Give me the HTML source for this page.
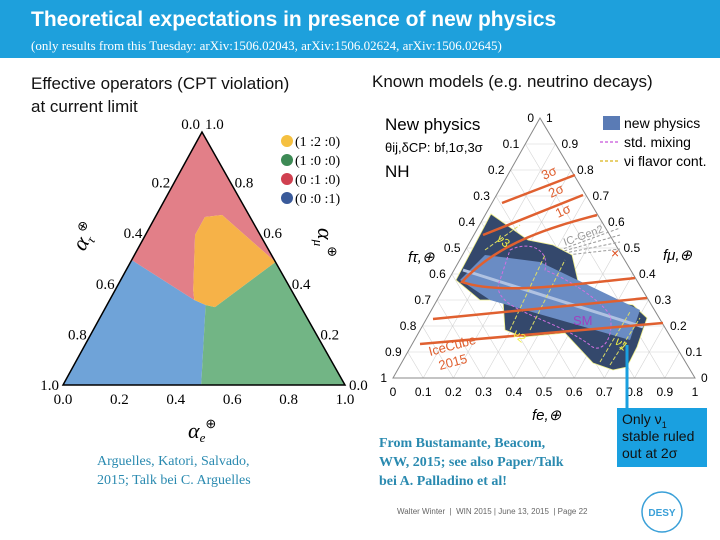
<!DOCTYPE html>
<html><head><meta charset="utf-8">
<style>
body{margin:0;width:720px;height:540px;overflow:hidden;background:#fff;font-family:"Liberation Sans",sans-serif;position:relative}
.hdr{position:absolute;left:0;top:0;width:720px;height:58px;background:#1ea0dc}
.t{position:absolute;white-space:nowrap}
sub{line-height:0}
</style></head><body>
<div class="hdr"></div>
<div class="t" style="left:31px;top:8px;font-size:21px;color:#fff;font-weight:bold">Theoretical expectations in presence of new physics</div>
<div class="t" style="left:31px;top:38px;font-size:13px;color:#fff;font-family:'Liberation Serif',serif">(only results from this Tuesday: arXiv:1506.02043, arXiv:1506.02624, arXiv:1506.02645)</div>
<div class="t" style="left:31px;top:72px;font-size:17px;line-height:23px;color:#111">Effective operators (CPT violation)<br>at current limit</div>
<div class="t" style="left:372px;top:72px;font-size:17px;color:#111">Known models (e.g. neutrino decays)</div>
<svg id="s" width="720" height="540" style="position:absolute;left:0;top:0"></svg>
<div class="t" style="left:97px;top:452px;font-size:14px;line-height:19px;color:#2a8ab0;font-family:'Liberation Serif',serif">Arguelles, Katori, Salvado,<br>2015; Talk bei C. Arguelles</div>
<div class="t" style="left:379px;top:434px;font-size:14px;line-height:19px;color:#2a8ab0;font-weight:bold;font-family:'Liberation Serif',serif">From Bustamante, Beacom,<br>WW, 2015; see also Paper/Talk<br>bei A. Palladino et al!</div>
<div class="t" style="left:617px;top:408px;width:90px;height:59px;background:#1aa0e0;font-size:14px;line-height:17px;color:#111;padding:3px 0 0 5px;box-sizing:border-box">Only ν<sub style="font-size:9px">1</sub><br>stable ruled<br>out at 2σ</div>
<div class="t" style="left:397px;top:507px;font-size:8px;color:#666">Walter Winter &nbsp;|&nbsp; WIN 2015 | June 13, 2015 &nbsp;| Page 22</div>
<script>
const NS="http://www.w3.org/2000/svg",S=document.getElementById('s');
function el(t,a,p){const e=document.createElementNS(NS,t);for(const k in a)e.setAttribute(k,a[k]);(p||S).appendChild(e);return e;}
// ---- left ternary data: vertices as (alpha_mu, alpha_e) fractions ----
const ticksL=["0.0","0.2","0.4","0.6","0.8","1.0"];
const regionNames=["blue","green","red","orange"];
const regionColors=["#6fa3d8","#72b585","#e27f88","#f6b248"];
const regionBlue=[[0,0],[0.494,0],[0.336,0.30],[0.316,0.35],[0,0.49]];
const regionGreen=[[0,0.49],[0.316,0.35],[0.308,0.387],[0.486,0.514],[0,1]];
const regionRed=[[1,0],[0.494,0],[0.336,0.30],[0.375,0.277],[0.593,0.176],[0.664,0.176],[0.672,0.233],[0.486,0.514]];
const regionOrange=[[0.664,0.176],[0.672,0.233],[0.486,0.514],[0.308,0.387],[0.316,0.35],[0.336,0.30],[0.375,0.277],[0.593,0.176]];
const LA={x:202,y:132},LBL={x:63,y:385},LBR={x:345,y:385};
function LP(am,ae){const at=1-ae-am;return{x:ae*LBR.x+at*LBL.x+am*LA.x,y:ae*LBR.y+at*LBL.y+am*LA.y};}
const gL=el('g',{});
[regionBlue,regionGreen,regionRed,regionOrange].forEach((r,i)=>{
 const p=el('polygon',{points:r.map(v=>{const q=LP(v[0],v[1]);return q.x+','+q.y}).join(' '),fill:regionColors[i]},gL);
 
});
el('polygon',{points:`${LA.x},${LA.y} ${LBL.x},${LBL.y} ${LBR.x},${LBR.y}`,fill:'none',stroke:'#000','stroke-width':1.5},gL);
const sf={'font-size':15,'font-family':'Liberation Serif'};
ticksL.forEach((t,i)=>{const f=i/5;
 const b=LP(0,f);el('text',Object.assign({x:b.x,y:404,'text-anchor':'middle'},sf),gL).textContent=t;
 if(i>0){const l=LP(1-f,0);el('text',Object.assign({x:l.x-4,y:l.y+5,'text-anchor':'end'},sf),gL).textContent=t;}
 if(i<5){const r=LP(f,1-f);el('text',Object.assign({x:r.x+4,y:r.y+5},sf),gL).textContent=t;}
});
el('text',Object.assign({x:200,y:129,'text-anchor':'end'},sf),gL).textContent='0.0';
el('text',Object.assign({x:205,y:129},sf),gL).textContent='1.0';
const ax=(x,y,s,r)=>{const t=el('text',{x:x,y:y,'font-size':22,'font-style':'italic','font-family':'Liberation Serif',transform:r?`rotate(${r} ${x} ${y})`:''},gL);
 t.innerHTML=`α<tspan font-size="13" dy="4">${s}</tspan><tspan font-size="13" dy="-14" font-style="normal">⊕</tspan>`;};
ax(188,438,'e',0);ax(84,252,'τ',-60);ax(318,228,'μ',90);
const legL=["(1 :2 :0)","(1 :0 :0)","(0 :1 :0)","(0 :0 :1)"],legC=["#f5c040","#3d8a55","#d04050","#3a5a9a"];
legL.forEach((t,i)=>{const g=el('g',{},gL);
 el('circle',{cx:287,cy:141+i*19,r:6,fill:legC[i]},g);el('text',{x:295,y:146+i*19,'font-size':14,'font-family':'Liberation Serif'},g).textContent=t;});
// ---- right ternary ----
const ticksR=["0","0.1","0.2","0.3","0.4","0.5","0.6","0.7","0.8","0.9","1"];
const RA={x:540,y:118},RBL={x:393,y:378},RBR={x:695,y:378};
function RP(fe,fm){const ft=1-fe-fm;return{x:fe*RBR.x+fm*RA.x+ft*RBL.x,y:fe*RBR.y+fm*RA.y+ft*RBL.y};}
const gR=el('g',{});
for(let i=1;i<10;i++){const f=i/10;
 [[RP(f,0),RP(f,1-f)],[RP(0,f),RP(1-f,f)],[RP(f,0),RP(0,f)]].forEach(s=>el('line',{x1:s[0].x,y1:s[0].y,x2:s[1].x,y2:s[1].y,stroke:'#d4d4d4','stroke-width':0.6},gR));}
el('polygon',{points:`${RA.x},${RA.y} ${RBL.x},${RBL.y} ${RBR.x},${RBR.y}`,fill:'none',stroke:'#888','stroke-width':1},gR);
ticksR.forEach((t,i)=>{const f=i/10;
 const b=RP(f,0);el('text',{x:b.x,y:396,'font-size':12,'text-anchor':'middle'},gR).textContent=t;
 const r=RP(1-f,f);el('text',{x:r.x+6,y:r.y+4,'font-size':12},gR).textContent=t;
 const l=RP(0,1-f);el('text',{x:l.x-6,y:l.y+4,'font-size':12,'text-anchor':'end'},gR).textContent=t;});
for(let k=0;k<4;k++)el('path',{d:`M${470+k*3} ${283-k*6} L${620} ${228+k*7}`,stroke:'#999','stroke-width':1,'stroke-dasharray':'3 2',fill:'none'},gR);
el('text',{x:565,y:246,'font-size':11,fill:'#999',transform:'rotate(-20 565 246)'},gR).textContent='IC-Gen2';
el('polygon',{points:'491,214 528,240 553,245 572,255 580,290 613,302 633,305 647,318 637,347 627,367 613,370 593,363 565,333 523,337 505,330 503,300 480,300 456,280',fill:'#34486c',stroke:'#ee8','stroke-width':0.8},gR);
el('polygon',{points:'460,280 485,255 540,262 640,310 630,340 560,320 490,300',fill:'#6a8cc4'},gR);
el('line',{x1:463,y1:270,x2:643,y2:327,stroke:'#b0c2e2','stroke-width':3},gR);
el('path',{d:'M510 250 C530 240 550 250 545 270 C570 280 600 300 610 315 C615 340 600 355 590 345 C570 330 540 320 520 310 C500 300 495 290 500 280 Z',fill:'none',stroke:'#d070e0','stroke-width':1,'stroke-dasharray':'3 2'},gR);
[[485,250,520,225],[510,330,545,255],[530,330,565,260],[600,362,630,312],[610,365,640,318]].forEach(l=>el('line',{x1:l[0],y1:l[1],x2:l[2],y2:l[3],stroke:'#dd6','stroke-width':1,'stroke-dasharray':'4 2'},gR));
const sig=["M502 203 L575 175","M483 235 L583 195","M597 215 C560 225 500 240 462 282 C500 295 570 285 635 278","M433 319 L647 298","M420 344 L663 323"];
sig.forEach(d=>el('path',{d:d,stroke:'#e06030','stroke-width':2.5,fill:'none'},gR));
[["3σ",544,180],["2σ",551,198],["1σ",558,218]].forEach(a=>el('text',{x:a[1],y:a[2],'font-size':13,fill:'#e06030',transform:`rotate(-25 ${a[1]} ${a[2]})`},gR).textContent=a[0]);
el('text',{x:430,y:356,'font-size':13,fill:'#e06030',transform:'rotate(-15 430 356)'},gR).textContent='IceCube';
el('text',{x:440,y:370,'font-size':13,fill:'#e06030',transform:'rotate(-15 440 370)'},gR).textContent='2015';
el('text',{x:573,y:325,'font-size':13,fill:'#a040c0'},gR).textContent='SM';
[["ν3",496,240],["ν2",512,335],["ν1",614,343]].forEach(a=>el('text',{x:a[1],y:a[2],'font-size':12,fill:'#ee4',transform:`rotate(40 ${a[1]} ${a[2]})`},gR).textContent=a[0]);
el('text',{x:385,y:130,'font-size':17},gR).textContent='New physics';
el('text',{x:385,y:152,'font-size':13},gR).textContent='θij,δCP: bf,1σ,3σ';
el('text',{x:385,y:177,'font-size':17},gR).textContent='NH';
el('text',{x:408,y:262,'font-size':15,'font-style':'italic'},gR).textContent='fτ,⊕';
el('text',{x:663,y:260,'font-size':15,'font-style':'italic'},gR).textContent='fμ,⊕';
el('text',{x:532,y:420,'font-size':15,'font-style':'italic'},gR).textContent='fe,⊕';
el('text',{x:611,y:258,'font-size':14,fill:'#e05020'},gR).textContent='×';
const leg=[["new physics","#5a7bb5",1],["std. mixing","#d070e0",0],["νi flavor cont.","#e0c040",0]];
leg.forEach((l,i)=>{const g=el('g',{},gR);
 if(l[2])el('rect',{x:603,y:116,width:17,height:14,fill:l[1]},g);else el('line',{x1:600,y1:123+i*19,x2:620,y2:123+i*19,stroke:l[1],'stroke-dasharray':'3 2','stroke-width':1.5},g);
 el('text',{x:624,y:128+i*19,'font-size':14},g).textContent=l[0];});
el('line',{x1:627,y1:345,x2:627,y2:408,stroke:'#1aa0e0','stroke-width':3});
const d=el('g',{});
el('circle',{cx:662,cy:512,r:20,fill:'none',stroke:'#3aa0d8','stroke-width':1.5},d);
el('text',{x:662,y:516,'font-size':10,'font-weight':'bold','text-anchor':'middle',fill:'#3aa0d8'},d).textContent='DESY';
</script>
</body></html>
